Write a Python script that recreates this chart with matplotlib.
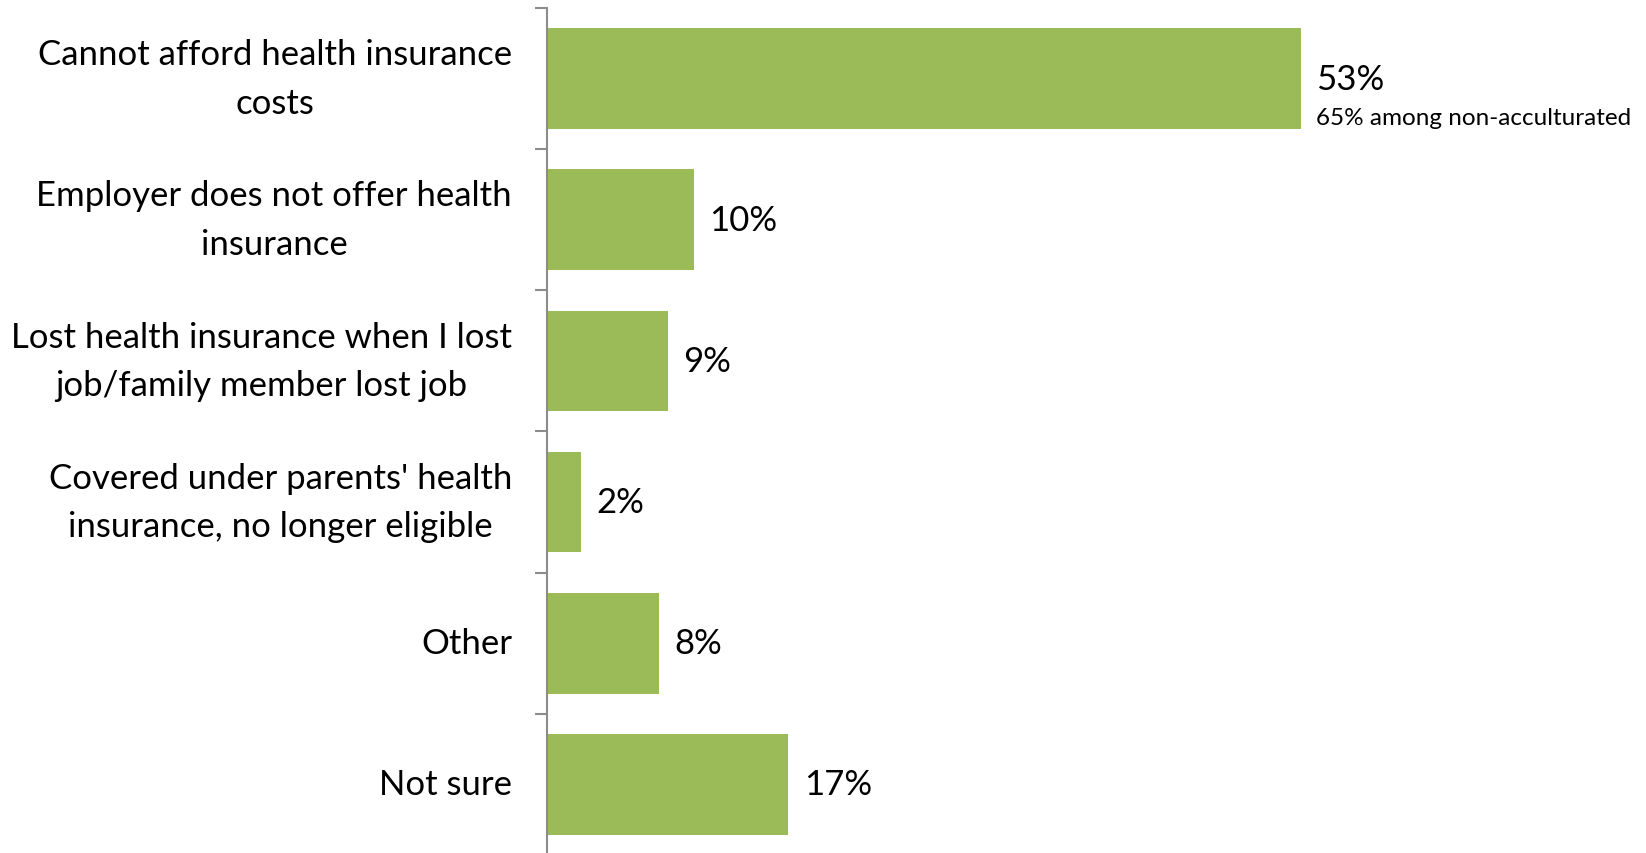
import numpy as np
import matplotlib.pyplot as plt

categories = [
    "Cannot afford health insurance\ncosts",
    "Employer does not offer health\ninsurance",
    "Lost health insurance when I lost\njob/family member lost job",
    "Covered under parents' health\ninsurance, no longer eligible",
    "Other",
    "Not sure",
]
values = [53.0, 10.35, 8.5, 2.4, 7.9, 17.0]
value_labels = ["53%", "10%", "9%", "2%", "8%", "17%"]
note = "65% among non-acculturated"

plt.rcParams['font.family'] = ['Lato', 'DejaVu Sans']

bar_color = '#9BBB59'
axis_color = '#8C8C8C'

fig = plt.figure(figsize=(16.46, 8.54), dpi=100)
ax = fig.add_axes([0.3321, -0.0023, 0.5185, 0.9918])

y = np.arange(len(categories))
ax.barh(y, values, height=0.713, color=bar_color)
ax.set_ylim(len(categories) - 0.5, -0.5)
ax.set_xlim(0, 60)

for yi, v, lab in zip(y, values, value_labels):
    ax.annotate(lab, (v, yi), xytext=(11, 0), textcoords='offset points',
                va='center', ha='left', fontsize=25, color='black')
ax.annotate(note, (values[0], 0), xytext=(11, -28), textcoords='offset points',
            va='center', ha='left', fontsize=17.5, color='black')

ax.set_yticks(y)
ax.set_yticklabels(categories, fontsize=25, multialignment='center',
                   linespacing=1.64)
for t in ax.get_yticklabels():
    t.set_va('center')
ax.tick_params(axis='y', which='major', length=0, pad=25)
ax.set_yticks(np.arange(len(categories) + 1) - 0.5, minor=True)
ax.tick_params(axis='y', which='minor', length=9, width=1.5, color=axis_color,
               direction='out')
ax.set_xticks([])

for s in ['top', 'right', 'bottom']:
    ax.spines[s].set_visible(False)
ax.spines['left'].set_color(axis_color)
ax.spines['left'].set_linewidth(1.5)

fig.savefig('out.png', dpi=100)
